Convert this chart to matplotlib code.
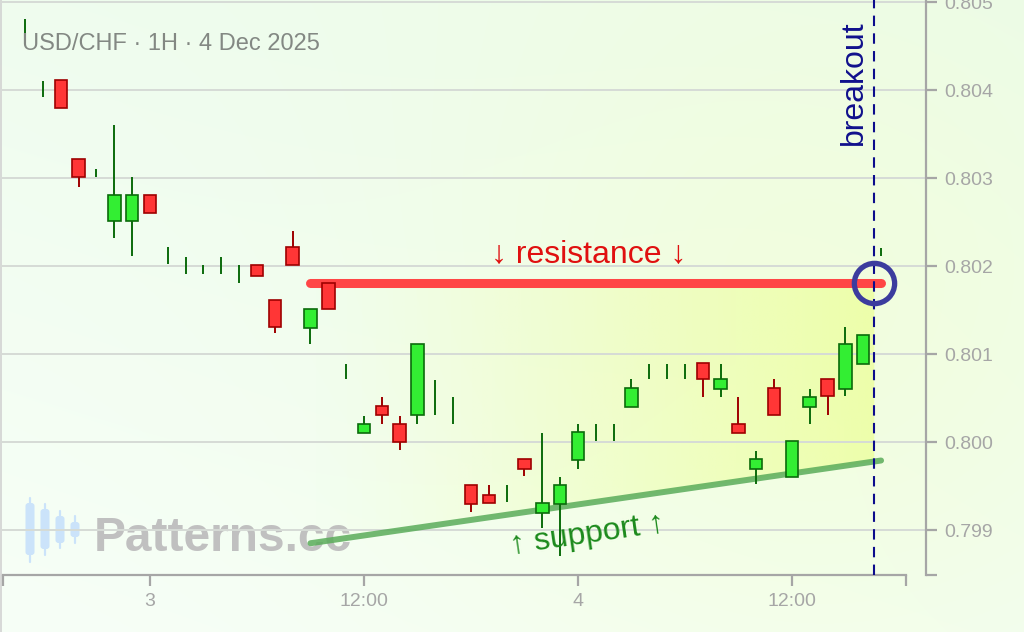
import numpy as np
import matplotlib
matplotlib.use("Agg")
import matplotlib.pyplot as plt
from matplotlib.patches import Rectangle, Polygon, FancyBboxPatch

plt.rcParams["font.family"] = ["Liberation Sans", "DejaVu Sans"]

# ---- data: hourly USD/CHF candles, hours counted from 3 Dec 2025 00:00 ----
hours = list(range(-7, 42))
opens = [0.80466, 0.80401, 0.80411, 0.80322, 0.80305, 0.80251, 0.80251, 0.80281,
         0.80212, 0.80200, 0.80196, 0.80200, 0.80191, 0.80201, 0.80161, 0.80222,
         0.80130, 0.80181, 0.80080, 0.80010, 0.80041, 0.80020, 0.80031, 0.80051,
         0.80036, 0.79951, 0.79940, 0.79941, 0.79981, 0.79919, 0.79930, 0.79980,
         0.80011, 0.80011, 0.80040, 0.80081, 0.80081, 0.80081, 0.80090, 0.80060,
         0.80020, 0.79969, 0.80061, 0.79960, 0.80040, 0.80072, 0.80060, 0.80089,
         0.80216]
highs = [0.80481, 0.80410, 0.80411, 0.80322, 0.80310, 0.80360, 0.80301, 0.80281,
         0.80222, 0.80210, 0.80201, 0.80210, 0.80201, 0.80201, 0.80161, 0.80240,
         0.80151, 0.80181, 0.80089, 0.80030, 0.80051, 0.80030, 0.80111, 0.80071,
         0.80051, 0.79951, 0.79951, 0.79951, 0.79981, 0.80010, 0.79960, 0.80020,
         0.80020, 0.80020, 0.80072, 0.80089, 0.80089, 0.80089, 0.80090, 0.80089,
         0.80051, 0.79990, 0.80072, 0.80001, 0.80060, 0.80072, 0.80131, 0.80122,
         0.80221]
lows = [0.80451, 0.80392, 0.80380, 0.80290, 0.80301, 0.80232, 0.80211, 0.80260,
        0.80202, 0.80191, 0.80191, 0.80191, 0.80181, 0.80189, 0.80124, 0.80201,
        0.80111, 0.80151, 0.80072, 0.80010, 0.80020, 0.79991, 0.80020, 0.80031,
        0.80020, 0.79920, 0.79931, 0.79932, 0.79961, 0.79902, 0.79870, 0.79969,
        0.80001, 0.80001, 0.80040, 0.80072, 0.80072, 0.80072, 0.80051, 0.80051,
        0.80010, 0.79952, 0.80031, 0.79960, 0.80020, 0.80031, 0.80052, 0.80089,
        0.80211]
closes = [0.80466, 0.80401, 0.80380, 0.80301, 0.80305, 0.80281, 0.80281, 0.80260,
          0.80212, 0.80200, 0.80196, 0.80200, 0.80191, 0.80189, 0.80131, 0.80201,
          0.80151, 0.80151, 0.80080, 0.80020, 0.80031, 0.80000, 0.80111, 0.80051,
          0.80036, 0.79930, 0.79931, 0.79941, 0.79969, 0.79931, 0.79951, 0.80011,
          0.80011, 0.80011, 0.80061, 0.80081, 0.80081, 0.80081, 0.80072, 0.80072,
          0.80010, 0.79981, 0.80031, 0.80001, 0.80051, 0.80052, 0.80111, 0.80122,
          0.80216]

tick_hours = [0, 12, 24, 36]
tick_labels = ["3", "12:00", "4", "12:00"]
price_ticks = [0.799, 0.800, 0.801, 0.802, 0.803, 0.804, 0.805]

resistance_span = [9, 41]
resistance_level = 0.80181
support_span = [9, 41]
support_levels = [0.79885, 0.79979]
breakout_hour = 40.62
title_text = "USD/CHF \u00b7 1H \u00b7 4 Dec 2025"

# ---- figure ----
W, H = 1024, 632
fig = plt.figure(figsize=(W / 100, H / 100), dpi=100)

# soft mint background with a pale yellow glow
bg = fig.add_axes([0, 0, 1, 1], zorder=-10)
bg.axis("off")
yy, xx = np.mgrid[0:H, 0:W].astype(float)
top = np.array([235, 251, 234]) / 255
bottom = np.array([247, 255, 247]) / 255
t = np.clip(0.65 * yy / H + 0.35 * (1 - xx / W), 0, 1)[..., None]
img = top * (1 - t) + bottom * t
glow = np.exp(-((xx - 800) ** 2 + (yy - 320) ** 2) / (2 * 260 ** 2))[..., None] * 0.55
img = img * (1 - glow) + np.array([243, 255, 210]) / 255 * glow
bg.imshow(img, extent=[0, W, H, 0], aspect="auto", interpolation="bilinear")
bg.set_xlim(0, W)
bg.set_ylim(H, 0)

# watermark: small candle icon and site name
icon_color = "#cbe3fa"
for cx, b0, b1, w0, w1 in [(30, 503, 555, 498, 562), (45, 509, 549, 504, 555),
                           (60, 516, 543, 511, 548), (75, 522, 537, 516, 543)]:
    bg.plot([cx, cx], [w0, w1], color=icon_color, lw=1.6, solid_capstyle="round")
    bg.add_patch(FancyBboxPatch((cx - 4.5, b0), 9, b1 - b0,
                                boxstyle="round,pad=0,rounding_size=3",
                                color=icon_color, lw=0))
bg.text(94, 551, "Patterns.cc", fontsize=34.5, fontweight="bold", color="#c0c0c0",
        va="baseline", ha="left")
bg.plot([0.6, 0.6], [0, H], color="#d2d2d2", lw=1.2)

# ---- main axes ----
ax = fig.add_axes([0, 57 / H, 926 / W, 575 / H])
ax.set_facecolor("none")
x_lo, x_hi = -8.41, 43.52
y_lo, y_hi = 0.798489, 0.805023
ax.set_xlim(x_lo, x_hi)
ax.set_ylim(y_lo, y_hi)

for p in price_ticks:
    ax.axhline(p, color="#d6dbd6", lw=1.4, zorder=1)

# triangle fill between resistance and support, fading in from the left
fill_start = 8.7
sup_at = lambda h: np.interp(h, support_span, support_levels)
tri = Polygon([(fill_start, resistance_level), (breakout_hour, resistance_level),
               (breakout_hour, sup_at(breakout_hour)), (fill_start, sup_at(fill_start))],
              closed=True, facecolor="none", edgecolor="none")
ax.add_patch(tri)
n = 300
ramp = np.linspace(0, 1, n) ** 1.3
rgba = np.zeros((2, n, 4))
rgba[..., :3] = np.array([236, 255, 150]) / 255
rgba[..., 3] = 0.72 * ramp
im = ax.imshow(rgba, extent=[fill_start, breakout_hour, y_lo, resistance_level],
               aspect="auto", interpolation="bilinear", zorder=0.8, origin="lower")
im.set_clip_path(tri)
ax.set_xlim(x_lo, x_hi)
ax.set_ylim(y_lo, y_hi)

# resistance and support lines
ax.plot(resistance_span, [resistance_level] * 2, color="#ff4646", lw=6.5,
        solid_capstyle="round", zorder=3)
ax.plot(support_span, support_levels, color="#5aac5a", alpha=0.85, lw=4.3,
        solid_capstyle="round", zorder=3)

# candles
body_w = 0.70
up_face, up_edge = "#33ee33", "#0b6b0b"
dn_face, dn_edge = "#ff3636", "#9e0000"
for h, o, hi, lo, c in zip(hours, opens, highs, lows, closes):
    up = c >= o
    edge = up_edge if up else dn_edge
    face = up_face if up else dn_face
    ax.plot([h, h], [lo, hi], color=edge, lw=1.4, zorder=4, solid_capstyle="butt")
    if abs(c - o) > 1e-7:
        ax.add_patch(Rectangle((h - body_w / 2, min(o, c)), body_w, abs(c - o),
                               facecolor=face, edgecolor=edge, lw=1.2, zorder=5))

# breakout marker
ax.axvline(breakout_hour, color="#0c0c8c", lw=1.5, dashes=(5, 3.5), zorder=6)
ax.plot([breakout_hour], [resistance_level], marker="o", ms=29, mfc="none",
        mec="#3c3c9e", mew=3.8, zorder=7)

# labels
ax.text(24.6, 0.80204, "\u2193 resistance \u2193", fontsize=23, color="#e01010",
        ha="center", va="baseline", zorder=8)
fig.canvas.draw()
p1 = ax.transData.transform((support_span[0], support_levels[0]))
p2 = ax.transData.transform((support_span[1], support_levels[1]))
ang = np.degrees(np.arctan2(p2[1] - p1[1], p2[0] - p1[0]))
ax.text(24.5, 0.79894, "\u2191 support \u2191", fontsize=23, color="#1c8a1c",
        ha="center", va="center", rotation=ang, rotation_mode="anchor", zorder=8)
ax.text(39.46, 0.80408, "breakout", fontsize=23, color="#10108c", rotation=90,
        ha="center", va="center", zorder=8)
fig.text(22 / W, 1 - 50 / H, title_text, fontsize=17, color="#838883", va="baseline",
         ha="left")

# axes styling
axis_gray = "#a6a6a6"
for side in ["left", "top"]:
    ax.spines[side].set_visible(False)
ax.spines["right"].set_color(axis_gray)
ax.spines["right"].set_linewidth(1.6)
ax.spines["bottom"].set_color(axis_gray)
ax.spines["bottom"].set_linewidth(1.6)
ax.spines["bottom"].set_bounds(-8.25, 42.4)

ax.yaxis.tick_right()
ax.set_yticks(price_ticks, [f"{p:.3f}" for p in price_ticks])
ax.set_yticks([y_lo], minor=True)
ax.tick_params(axis="y", which="both", direction="out", length=8, width=1.6,
               color=axis_gray, labelcolor="#a6a6a6", labelsize=14, pad=5,
               left=False, right=True)
ax.set_xticks(tick_hours, tick_labels)
ax.set_xticks([-8.25, 42.4], minor=True)
ax.tick_params(axis="x", which="both", direction="out", length=8, width=1.6,
               color=axis_gray, labelcolor="#a6a6a6", labelsize=14, pad=5)

fig.savefig("out.png", dpi=100)
